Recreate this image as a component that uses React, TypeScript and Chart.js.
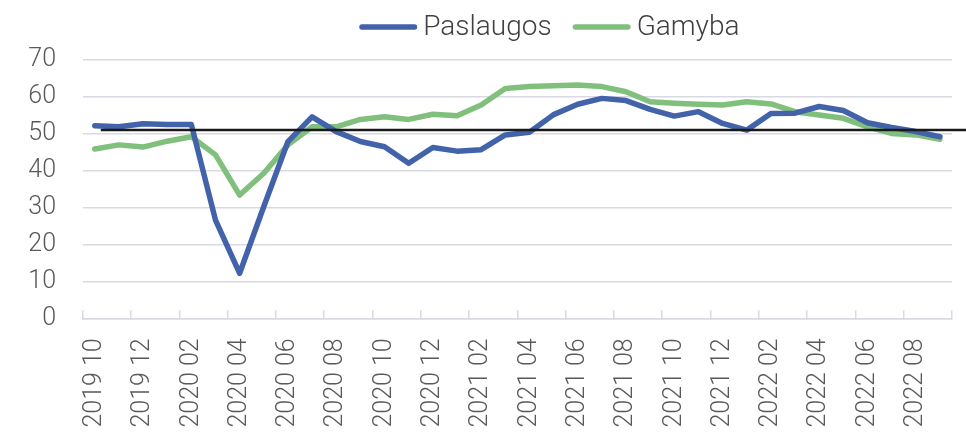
import React, { useEffect, useRef } from "react";
import { Chart, registerables } from "chart.js";

Chart.register(...registerables);

const MONTHS = [
  "2019 10", "2019 11", "2019 12",
  "2020 01", "2020 02", "2020 03", "2020 04", "2020 05", "2020 06",
  "2020 07", "2020 08", "2020 09", "2020 10", "2020 11", "2020 12",
  "2021 01", "2021 02", "2021 03", "2021 04", "2021 05", "2021 06",
  "2021 07", "2021 08", "2021 09", "2021 10", "2021 11", "2021 12",
  "2022 01", "2022 02", "2022 03", "2022 04", "2022 05", "2022 06",
  "2022 07", "2022 08", "2022 09",
];

const PASLAUGOS = [
  52.2, 51.9, 52.7, 52.5, 52.5, 26.6, 12.2, 30.3, 47.9, 54.6, 50.6, 47.9,
  46.5, 42.0, 46.3, 45.3, 45.7, 49.7, 50.4, 55.2, 58.0, 59.6, 59.0, 56.6,
  54.8, 56.0, 52.8, 51.0, 55.5, 55.6, 57.4, 56.3, 53.0, 51.7, 50.6, 49.2,
];

const GAMYBA = [
  45.9, 47.0, 46.4, 48.0, 49.2, 44.3, 33.4, 39.3, 47.0, 51.9, 51.9, 53.9,
  54.6, 53.9, 55.3, 54.9, 57.8, 62.3, 62.8, 63.0, 63.2, 62.8, 61.4, 58.7,
  58.3, 58.0, 57.8, 58.7, 58.1, 56.0, 55.1, 54.2, 51.9, 50.1, 49.7, 48.5,
];

const THRESHOLD = 51;
const Y_MIN = 0;
const Y_MAX = 70;
const Y_STEP = 10;

const BLUE = "#4262AA";
const GREEN = "#80C07C";
const GRID = "#D9D9E4";
const FONT_FAMILY = "Roboto, 'Open Sans', sans-serif";

const thresholdPlugin = {
  id: "thresholdLine",
  afterDatasetsDraw(chart: any) {
    const { ctx, scales } = chart;
    const y = scales.y.getPixelForValue(THRESHOLD);
    const x0 = scales.x.getPixelForValue(0) + 6;
    ctx.save();
    ctx.strokeStyle = "#1A1A1A";
    ctx.lineWidth = 2.5;
    ctx.beginPath();
    ctx.moveTo(x0, y);
    ctx.lineTo(chart.width, y);
    ctx.stroke();
    ctx.restore();
  },
};

const legendPlugin = {
  id: "customLegend",
  afterDraw(chart: any) {
    const { ctx, chartArea } = chart;
    ctx.save();
    ctx.font = `300 28px ${FONT_FAMILY}`;
    const lineLen = 58;
    const gapText = 6;
    const gapItem = 21;
    const items = chart.data.datasets.map((d: any) => ({
      label: d.label,
      color: d.borderColor,
      w: ctx.measureText(d.label).width,
    }));
    const total =
      items.reduce((s: number, it: any) => s + lineLen + gapText + it.w, 0) +
      gapItem * (items.length - 1);
    const cx = (chartArea.left + chartArea.right) / 2 + 32;
    let x = cx - total / 2;
    const y = 27;
    ctx.textBaseline = "middle";
    ctx.textAlign = "left";
    for (const it of items) {
      ctx.strokeStyle = it.color;
      ctx.lineWidth = 5.5;
      ctx.lineCap = "round";
      ctx.beginPath();
      ctx.moveTo(x + 2.75, y);
      ctx.lineTo(x + lineLen - 2.75, y);
      ctx.stroke();
      ctx.fillStyle = "#404040";
      ctx.fillText(it.label, x + lineLen + gapText, y + 1);
      x += lineLen + gapText + it.w + gapItem;
    }
    ctx.restore();
  },
};

export default function App() {
  const ref = useRef<HTMLCanvasElement | null>(null);

  useEffect(() => {
    document.body.style.margin = "0";
    const canvas = ref.current;
    if (!canvas) return;
    const chart = new Chart(canvas, {
      type: "line",
      data: {
        labels: MONTHS,
        datasets: [
          {
            label: "Paslaugos",
            data: PASLAUGOS,
            borderColor: BLUE,
            backgroundColor: BLUE,
            borderWidth: 5.5,
            pointRadius: 0,
            tension: 0,
            borderCapStyle: "round",
            borderJoinStyle: "round",
          },
          {
            label: "Gamyba",
            data: GAMYBA,
            borderColor: GREEN,
            backgroundColor: GREEN,
            borderWidth: 5.5,
            pointRadius: 0,
            tension: 0,
            borderCapStyle: "round",
            borderJoinStyle: "round",
          },
        ],
      },
      options: {
        responsive: false,
        animation: false,
        devicePixelRatio: 1,
        layout: { padding: { top: 60, right: 14, left: 0, bottom: 0 } },
        plugins: {
          legend: { display: false },
          tooltip: { enabled: false },
        },
        scales: {
          x: {
            type: "category",
            offset: true,
            grid: {
              offset: true,
              drawOnChartArea: false,
              drawTicks: true,
              tickLength: -8,
              lineWidth: 1.5,
              color: (c: any) =>
                c.index === undefined || c.index % 2 === 0 ? GRID : "rgba(0,0,0,0)",
            },
            border: { display: true, color: GRID, width: 1.5 },
            ticks: {
              autoSkip: false,
              minRotation: 90,
              maxRotation: 90,
              padding: 28,
              color: "#595959",
              font: { family: FONT_FAMILY, size: 25, weight: "300" },
              callback: (_v: any, i: number) => (i % 2 === 0 ? MONTHS[i] : ""),
            },
            afterFit: (scale: any) => {
              scale.height = 115.7;
              scale.paddingLeft = 0;
              scale.paddingRight = 0;
            },
          },
          y: {
            min: Y_MIN,
            max: Y_MAX,
            grid: {
              color: GRID,
              lineWidth: 1.5,
              drawTicks: false,
            },
            border: { display: false },
            ticks: {
              stepSize: Y_STEP,
              padding: 26.7,
              color: "#595959",
              font: { family: FONT_FAMILY, size: 25, weight: "300" },
            },
            afterFit: (scale: any) => {
              scale.width = 82.7;
              scale.paddingTop = 0;
              scale.paddingBottom = 0;
            },
          },
        },
      },
      plugins: [thresholdPlugin, legendPlugin],
    });
    return () => chart.destroy();
  }, []);

  return (
    <div style={{ width: 966, height: 434 }}>
      <canvas ref={ref} width={966} height={434} style={{ display: "block" }} />
    </div>
  );
}
